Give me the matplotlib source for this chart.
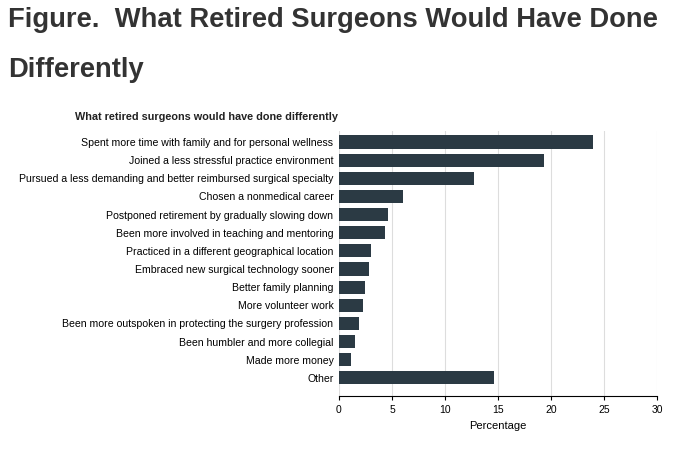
import matplotlib.pyplot as plt

categories = ["Spent more time with family and for personal wellness",
"Joined a less stressful practice environment",
"Pursued a less demanding and better reimbursed surgical specialty",
"Chosen a nonmedical career",
"Postponed retirement by gradually slowing down",
"Been more involved in teaching and mentoring",
"Practiced in a different geographical location",
"Embraced new surgical technology sooner",
"Better family planning",
"More volunteer work",
"Been more outspoken in protecting the surgery profession",
"Been humbler and more collegial",
"Made more money",
"Other"]
values = [24.0, 19.3, 12.7, 6.0, 4.6, 4.3, 3.0, 2.8, 2.5, 2.3, 1.9, 1.5, 1.1, 14.6]
xticks = [0, 5, 10, 15, 20, 25, 30]

plt.rcParams['font.family'] = ['Liberation Sans', 'DejaVu Sans']
fig = plt.figure(figsize=(6.8, 4.49), dpi=100)
fig.text(0.012, 0.955, "Figure.  What Retired Surgeons Would Have Done", fontsize=19.7, fontweight='bold', color='#333333', va='center')
fig.text(0.012, 0.843, "Differently", fontsize=19.7, fontweight='bold', color='#333333', va='center')
ax = fig.add_axes([0.4985, 0.118, 0.4676, 0.59])
y = range(len(categories))
ax.barh(y, values, height=0.72, color='#2b3a44', zorder=3)
ax.set_ylim(14.0, -0.6)
ax.set_xlim(0, 30)
ax.set_xticks(xticks)
ax.set_yticks(list(y))
ax.set_yticklabels(categories, fontsize=7.6)
ax.tick_params(axis='y', length=0, pad=4)
ax.tick_params(axis='x', labelsize=7.5, length=3)
ax.grid(axis='x', color='#dddddd', linewidth=0.8, zorder=0)
for s in ['top', 'right', 'left']:
    ax.spines[s].set_visible(False)
ax.set_xlabel("Percentage", fontsize=8)
fig.text(0.11, 0.74, "What retired surgeons would have done differently", fontsize=7.8, fontweight='bold', color='#222222', va='center')
fig.savefig("out.png", dpi=100)
